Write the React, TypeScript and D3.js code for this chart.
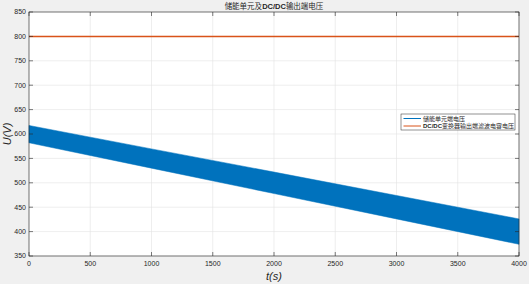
import React from "react";
import * as d3 from "d3";

const timeTicks = [0, 500, 1000, 1500, 2000, 2500, 3000, 3500, 4000];
const voltTicks = [350, 400, 450, 500, 550, 600, 650, 700, 750, 800, 850];
const bandTime = [0, 1000, 2000, 3000, 4000];
const bandUpper = [617.5, 569.5, 522, 474, 426];
const bandLower = [582, 530, 478, 426, 374];
const busTime = [0, 4000];
const busVolt = [800, 800];
const seriesNames = ["储能单元端电压", "DC/DC变换器输出端滤波电容电压"];
const seriesColors = ["#0072BD", "#D95319"];

const W = 529, H = 284;
const L = 29, R = 519, T = 12, B = 256;

export default function App() {
  const x = d3.scaleLinear().domain([0, 4000]).range([L, R]);
  const y = d3.scaleLinear().domain([350, 850]).range([B, T]);
  const bandData = bandTime.map((t, i) => ({ t, hi: bandUpper[i], lo: bandLower[i] }));
  const area = d3.area<any>().x(d => x(d.t)).y0(d => y(d.lo)).y1(d => y(d.hi))(bandData) || "";
  const busLine = d3.line<number>().x((d, i) => x(busTime[i])).y(d => y(d))(busVolt) || "";
  const tickFont = "Helvetica, Arial, 'Liberation Sans', sans-serif";
  const cjk = "'Noto Sans CJK SC', serif";
  const lgX = 401, lgY = 114, lgW = 114, lgH = 16;
  return (
    <svg width={W} height={H} style={{ position: "absolute", left: 0, top: 0, background: "#f0f0f0" }}>
      <rect x={0} y={0} width={W} height={H} fill="#f0f0f0" />
      <rect x={L} y={T} width={R - L} height={B - T} fill="#ffffff" />
      {timeTicks.map(t => (
        <line key={"gx" + t} x1={x(t)} x2={x(t)} y1={T} y2={B} stroke="#e3e3e3" strokeWidth={0.6} />
      ))}
      {voltTicks.map(v => (
        <line key={"gy" + v} x1={L} x2={R} y1={y(v)} y2={y(v)} stroke="#e3e3e3" strokeWidth={0.6} />
      ))}
      <path d={area} fill={seriesColors[0]} stroke={seriesColors[0]} strokeWidth={0.5} />
      <path d={busLine} fill="none" stroke={seriesColors[1]} strokeWidth={1.5} />
      <rect x={L} y={T} width={R - L} height={B - T} fill="none" stroke="#262626" strokeWidth={0.6} />
      {timeTicks.map(t => (
        <g key={"tx" + t}>
          <line x1={x(t)} x2={x(t)} y1={B} y2={B - 4} stroke="#262626" strokeWidth={0.6} />
          <line x1={x(t)} x2={x(t)} y1={T} y2={T + 4} stroke="#262626" strokeWidth={0.6} />
          <text x={x(t)} y={266} fontSize={7} fill="#262626" textAnchor="middle" fontFamily={tickFont}>{t}</text>
        </g>
      ))}
      {voltTicks.map(v => (
        <g key={"ty" + v}>
          <line x1={L} x2={L + 4} y1={y(v)} y2={y(v)} stroke="#262626" strokeWidth={0.6} />
          <line x1={R} x2={R - 4} y1={y(v)} y2={y(v)} stroke="#262626" strokeWidth={0.6} />
          <text x={26} y={y(v) + 2.4} fontSize={7} fill="#262626" textAnchor="end" fontFamily={tickFont}>{v}</text>
        </g>
      ))}
      <text x={274} y={280} fontSize={11} fill="#262626" textAnchor="middle" fontStyle="italic" fontFamily={tickFont}>t(s)</text>
      <text transform={`translate(11,${134}) rotate(-90)`} fontSize={11} fill="#262626" textAnchor="middle" fontStyle="italic" fontFamily={tickFont}>U(V)</text>
      <text x={274} y={9} fontSize={7.5} fill="#262626" textAnchor="middle" fontFamily={cjk}>
        储能单元及<tspan fontWeight="bold" fontFamily={tickFont}>DC/DC</tspan>输出端电压
      </text>
      <rect x={lgX} y={lgY} width={lgW} height={lgH} fill="#ffffff" stroke="#262626" strokeWidth={0.5} />
      {seriesNames.map((n, i) => (
        <g key={n}>
          <line x1={lgX + 2.5} x2={lgX + 20} y1={lgY + 4.5 + i * 7.5} y2={lgY + 4.5 + i * 7.5} stroke={seriesColors[i]} strokeWidth={1} />
          <text x={lgX + 22} y={lgY + 6.7 + i * 7.5} fontSize={6} fill="#262626" fontFamily={cjk}>
            {i === 1 ? (<><tspan fontWeight="bold" fontFamily={tickFont}>DC/DC</tspan>变换器输出端滤波电容电压</>) : n}
          </text>
        </g>
      ))}
    </svg>
  );
}
